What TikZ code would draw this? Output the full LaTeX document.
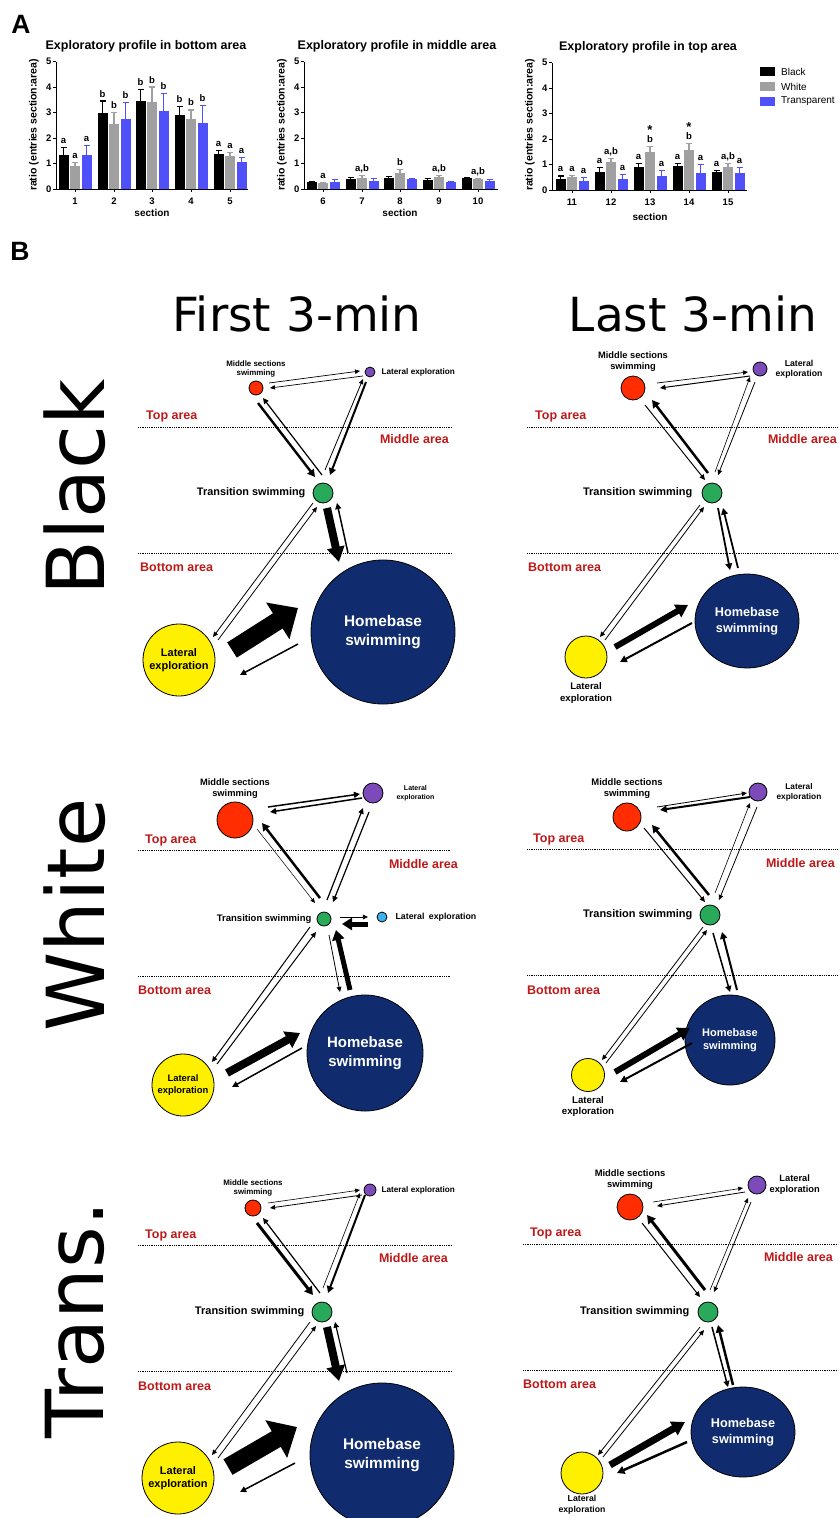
\documentclass[tikz,border=0pt]{standalone}
\usepackage{fontspec}
\setmainfont{Liberation Sans}
\newfontfamily\djv{DejaVu Sans}
\usepackage{xcolor}
\usepackage{tikz}
\usetikzlibrary{positioning,calc,arrows.meta,shapes.geometric}

\definecolor{barblack}{RGB}{0,0,0}
\definecolor{bargray}{RGB}{160,160,160}
\definecolor{barblue}{RGB}{80,80,250}
\definecolor{areared}{RGB}{190,25,25}
\definecolor{msred}{RGB}{255,45,0}
\definecolor{lepurple}{RGB}{125,75,185}
\definecolor{tsgreen}{RGB}{40,170,90}
\definecolor{leyellow}{RGB}{255,240,0}
\definecolor{hbblue}{RGB}{16,44,110}
\definecolor{lecyan}{RGB}{60,180,235}

\newcommand{\fsz}[2]{\fontsize{#1}{#2}\selectfont}

\tikzstyle{spot} = [circle, draw=black, line width=0.8pt, inner sep=0pt, align=center]
\tikzstyle{blob} = [ellipse, draw=black, line width=0.8pt, inner sep=0pt, fill=hbblue, text=white, align=center]
\tikzstyle{lbl} = [inner sep=0pt, align=center]
\tikzstyle{zonelbl} = [inner sep=0pt, text=areared, font=\bfseries\fsz{12.5}{15}]
\tikzstyle{zoneline} = [densely dotted, line width=0.8pt]
\tikzstyle{barlbl} = [anchor=base, inner sep=0pt, font=\bfseries\fsz{9.5}{11}]
\tikzset{flowarr/.style={line width=#1, -{Triangle[length=4pt 1.4, width=3pt 2]}}}
\tikzset{fatarr/.style n args={3}{line width=#1, -{Triangle[length=#2, width=#3]}}}

% one bar with its error whisker and letter
\newcommand{\onebar}[7]{%
  \fill[#5] (#1-5,#2) rectangle (#1+5,#2-#3*25.5);
  \draw[#5, line width=1.1pt] (#1,#2-#3*25.5) -- (#1,#2-#4*25.5)
    (#1-3,#2-#4*25.5) -- (#1+3,#2-#4*25.5);
  \node[barlbl] (#7) at (#1,#2-#4*25.5-4) {#6};}

\begin{document}
\begin{tikzpicture}[x=1pt, y=-1pt]
    \useasboundingbox (0,0) rectangle (840,1518);

    % A: the three bar charts
    \node[font=\bfseries\fsz{26.5}{30}] (pa) at (21,24) {A};
    \foreach \ox/\oy/\xe/\c in {56/189/248/1, 304/189/498/2, 552/190/747/3} {
      \draw[line width=1pt] (\ox,\oy-127.5) -- (\ox,\oy) -- (\xe,\oy);
      \foreach \k in {0,...,5}
        \draw[line width=1pt] (\ox,\oy-\k*25.5) -- (\ox-3,\oy-\k*25.5)
          node[left, inner sep=1pt, font=\bfseries\fsz{9.5}{11}] (yt\c\k) {\k};
      \node[rotate=90, font=\bfseries\fsz{10.5}{12}] (ylab\c) at (\ox-22,125) {ratio (entries section:area)};
    }
    \node[font=\bfseries\fsz{12.5}{15}] (ttl1) at (146,46) {Exploratory profile in bottom area};
    \node[font=\bfseries\fsz{12.5}{15}] (ttl2) at (397,46) {Exploratory profile in middle area};
    \node[font=\bfseries\fsz{12.5}{15}] (ttl3) at (648,47) {Exploratory profile in top area};
    \node[font=\bfseries\fsz{10}{12}] (xlab1) at (152,213) {section};
    \node[font=\bfseries\fsz{10}{12}] (xlab2) at (400,213) {section};
    \node[font=\bfseries\fsz{10}{12}] (xlab3) at (650,217) {section};
    \foreach \gx/\oy/\n in {75/189/1,114/189/2,152/189/3,191/189/4,230/189/5,
        323/189/6,362/189/7,400/189/8,439/189/9,478/189/10,
        572/190/11,611/190/12,650/190/13,689/190/14,728/190/15} {
      \draw[line width=1pt] (\gx,\oy) -- (\gx,\oy+3);
      \node[font=\bfseries\fsz{9.5}{11}] (sec\n) at (\gx,\oy+12) {\n};
    }
    \foreach \gx/\oy/\n/\kv/\ke/\kl/\wv/\we/\wl/\tv/\te/\tl in {
        75/189/1/1.35/1.63/a/0.9/1.05/a/1.35/1.72/a,
        114/189/2/3.0/3.45/b/2.55/3.0/b/2.75/3.4/b,
        152/189/3/3.45/3.9/b/3.4/4.0/b/3.05/3.75/b,
        191/189/4/2.9/3.25/b/2.75/3.1/b/2.6/3.27/b,
        230/189/5/1.37/1.5/a/1.3/1.42/a/1.05/1.25/a,
        323/189/6/0.27/0.3/{}/0.22/0.25/a/0.28/0.37/{},
        362/189/7/0.4/0.45/{}/0.45/0.52/{a,b}/0.32/0.4/{},
        400/189/8/0.45/0.5/{}/0.62/0.75/b/0.38/0.42/{},
        439/189/9/0.37/0.42/{}/0.48/0.52/{a,b}/0.27/0.3/{},
        478/189/10/0.42/0.45/{}/0.38/0.42/{a,b}/0.3/0.38/{},
        572/190/11/0.45/0.55/a/0.5/0.58/a/0.35/0.5/a,
        611/190/12/0.7/0.88/a/1.08/1.25/{a,b}/0.45/0.6/a,
        650/190/13/0.92/1.05/a/1.5/1.72/b/0.55/0.78/a,
        689/190/14/0.95/1.05/a/1.58/1.82/b/0.65/1.0/a,
        728/190/15/0.72/0.78/a/0.92/1.05/{a,b}/0.68/0.88/a} {
      \onebar{\gx-11.5}{\oy}{\kv}{\ke}{barblack}{\kl}{k\n}
      \onebar{\gx}{\oy}{\wv}{\we}{bargray}{\wl}{w\n}
      \onebar{\gx+11.5}{\oy}{\tv}{\te}{barblue}{\tl}{t\n}
    }
    \node[barlbl, font=\bfseries\fsz{13}{15}] (s13) at (650,190-1.72*25.5-12) {*};
    \node[barlbl, font=\bfseries\fsz{13}{15}] (s14) at (689,190-1.82*25.5-12) {*};
    % legend
    \fill[barblack] (760,67) rectangle (775,76);
    \fill[bargray] (760,82) rectangle (775,91);
    \fill[barblue] (760,97) rectangle (775,106);
    \node[anchor=west, inner sep=0pt, font=\fsz{10}{12}] (lgk) at (781,71.5) {Black};
    \node[anchor=west, inner sep=0pt, font=\fsz{10}{12}] (lgw) at (781,86.5) {White};
    \node[anchor=west, inner sep=0pt, font=\fsz{10}{12}] (lgt) at (781,101.5) {Transparent};

    % B: headings
    \node[font=\bfseries\fsz{26.5}{30}] (pb) at (20,251) {B};
    \node[font=\djv\fsz{47}{50}] (col1) at (297,314) {First 3-min};
    \node[font=\djv\fsz{47}{50}] (col2) at (693,314) {Last 3-min};
    \node[rotate=90, font=\djv\fsz{80}{84}] (row1) at (75,487) {Black};
    \node[rotate=90, font=\djv\fsz{80}{84}] (row2) at (75,915) {White};
    \node[rotate=90, font=\djv\fsz{80}{84}] (row3) at (75,1320) {Trans.};

    % Black, first 3-min
    \draw[zoneline] (138,427) -- (452,427);
    \draw[zoneline] (138,553) -- (452,553);
    \node[zonelbl, anchor=west] (t1) at (146,416) {Top area};
    \node[zonelbl, anchor=east] (m1) at (449,439) {Middle area};
    \node[zonelbl, anchor=west] (b1) at (140,567) {Bottom area};
    \node[spot, fill=msred, minimum size=14pt] (r1) at (256,388) {};
    \node[spot, fill=lepurple, minimum size=10pt] (p1) at (370,372) {};
    \node[spot, fill=tsgreen, minimum size=20pt] (g1) at (323,493) {};
    \node[spot, fill=leyellow, minimum size=72pt, font=\bfseries\fsz{11}{13}] (y1) at (179,660) {Lateral\\exploration};
    \node[blob, minimum width=144pt, minimum height=144pt, font=\bfseries\fsz{15.4}{19}] (h1) at (383,632) {Homebase\\swimming};
    \node[lbl, font=\bfseries\fsz{7.9}{9.5}, above=3pt of r1] (r1t) {Middle sections\\swimming};
    \node[lbl, font=\bfseries\fsz{8.2}{10}, right=6pt of p1] (p1t) {Lateral exploration};
    \node[lbl, font=\bfseries\fsz{10.9}{13}, left=7pt of g1] (g1t) {Transition swimming};
    \draw[flowarr=0.7pt] ($(r1)+(13,-5)$) -- ($(p1)+(-10,-1)$);
    \draw[flowarr=0.7pt] ($(p1)+(-7,4)$) -- ($(r1)+(14,0)$);
    \draw[flowarr=2.4pt] ($(r1)+(2,15)$) -- ($(g1)+(-8,-16)$);
    \draw[flowarr=1.2pt] ($(g1)+(-1,-18)$) -- ($(r1)+(7,10)$);
    \draw[flowarr=0.8pt] ($(g1)+(2,-23)$) -- ($(p1)+(-7,7)$);
    \draw[flowarr=2pt] ($(p1)+(-4,10)$) -- ($(g1)+(7,-18)$);
    \draw[fatarr={8pt}{15pt}{17pt}] ($(g1)+(4,15)$) -- ($(h1)+(-44,-70)$);
    \draw[flowarr=1.5pt] ($(h1)+(-35,-79)$) -- ($(g1)+(14,10)$);
    \draw[flowarr=0.8pt] ($(g1)+(-10,10)$) -- ($(y1)+(34,-23)$);
    \draw[flowarr=0.8pt] ($(y1)+(39,-20)$) -- ($(g1)+(-6,14)$);
    \draw[fatarr={18pt}{24pt}{42pt}] ($(y1)+(53,-10)$) -- ($(h1)+(-85,-24)$);
    \draw[flowarr=1.5pt] ($(h1)+(-85,12)$) -- ($(y1)+(61,15)$);

    % Black, last 3-min
    \draw[zoneline] (527,427) -- (838,427);
    \draw[zoneline] (527,553) -- (838,553);
    \node[zonelbl, anchor=west] (t2) at (535,416) {Top area};
    \node[zonelbl, anchor=east] (m2) at (837,439) {Middle area};
    \node[zonelbl, anchor=west] (b2) at (528,567) {Bottom area};
    \node[spot, fill=msred, minimum size=24pt] (r2) at (633,388) {};
    \node[spot, fill=lepurple, minimum size=14pt] (p2) at (760,369) {};
    \node[spot, fill=tsgreen, minimum size=20pt] (g2) at (712,493) {};
    \node[spot, fill=leyellow, minimum size=42pt] (y2) at (586,657) {};
    \node[blob, minimum width=104pt, minimum height=94pt, font=\bfseries\fsz{12.7}{15.5}] (h2) at (747,621) {Homebase\\swimming};
    \node[lbl, font=\bfseries\fsz{9.3}{11}, above=4pt of r2] (r2t) {Middle sections\\swimming};
    \node[lbl, font=\bfseries\fsz{8.7}{10.5}, right=8pt of p2] (p2t) {Lateral\\exploration};
    \node[lbl, font=\bfseries\fsz{11}{13}, left=9pt of g2] (g2t) {Transition swimming};
    \node[lbl, font=\bfseries\fsz{9.6}{11.5}, below=4pt of y2] (y2t) {Lateral\\exploration};
    \draw[flowarr=0.7pt] ($(r2)+(24,-5)$) -- ($(p2)+(-12,3)$);
    \draw[flowarr=1pt] ($(p2)+(-10,7)$) -- ($(r2)+(27,0)$);
    \draw[flowarr=2.5pt] ($(g2)+(-4,-20)$) -- ($(r2)+(19,12)$);
    \draw[flowarr=1pt] ($(r2)+(12,17)$) -- ($(g2)+(-7,-13)$);
    \draw[flowarr=0.6pt] ($(g2)+(3,-21)$) -- ($(p2)+(-10,8)$);
    \draw[flowarr=0.8pt] ($(p2)+(-5,13)$) -- ($(g2)+(6,-18)$);
    \draw[flowarr=1.8pt] ($(g2)+(6,15)$) -- ($(h2)+(-17,-51)$);
    \draw[flowarr=1.8pt] ($(h2)+(-9,-53)$) -- ($(g2)+(11,15)$);
    \draw[flowarr=0.8pt] ($(g2)+(-12,12)$) -- ($(y2)+(14,-20)$);
    \draw[flowarr=0.8pt] ($(y2)+(19,-17)$) -- ($(g2)+(-8,14)$);
    \draw[fatarr={6pt}{12pt}{14pt}] ($(y2)+(29,-10)$) -- ($(h2)+(-59,-16)$);
    \draw[flowarr=2pt] ($(h2)+(-55,2)$) -- ($(y2)+(34,5)$);

    % White, first 3-min
    \draw[zoneline] (138,850) -- (450,850);
    \draw[zoneline] (138,976) -- (450,976);
    \node[zonelbl, anchor=west] (t3) at (145,840) {Top area};
    \node[zonelbl, anchor=east] (m3) at (458,864) {Middle area};
    \node[zonelbl, anchor=west] (b3) at (138,990) {Bottom area};
    \node[spot, fill=msred, minimum size=36pt] (r3) at (235,820) {};
    \node[spot, fill=lepurple, minimum size=20pt] (p3) at (373,793) {};
    \node[spot, fill=tsgreen, minimum size=14pt] (g3) at (324,919) {};
    \node[spot, fill=lecyan, minimum size=10pt] (c3) at (382,917) {};
    \node[spot, fill=leyellow, minimum size=62pt, font=\bfseries\fsz{9.4}{11.5}] (y3) at (183,1085) {Lateral\\exploration};
    \node[blob, minimum width=116pt, minimum height=116pt, font=\bfseries\fsz{15}{18.5}] (h3) at (365,1053) {Homebase\\swimming};
    \node[lbl, font=\bfseries\fsz{9.3}{11}, above=3pt of r3] (r3t) {Middle sections\\swimming};
    \node[lbl, font=\bfseries\fsz{7}{9}, right=13pt of p3] (p3t) {Lateral\\exploration};
    \node[lbl, font=\bfseries\fsz{9.5}{11}, left=5pt of g3] (g3t) {Transition swimming};
    \node[lbl, font=\bfseries\fsz{8.8}{10.5}, right=8pt of c3] (c3t) {Lateral\enspace exploration};
    \draw[flowarr=1.5pt] ($(r3)+(33,-13)$) -- ($(p3)+(-13,1)$);
    \draw[flowarr=1.5pt] ($(p3)+(-11,5)$) -- ($(r3)+(35,-8)$);
    \draw[flowarr=0.5pt] ($(r3)+(22,9)$) -- ($(g3)+(-9,-16)$);
    \draw[flowarr=2.5pt] ($(g3)+(-4,-21)$) -- ($(r3)+(27,3)$);
    \draw[flowarr=1.2pt] ($(g3)+(3,-19)$) -- ($(p3)+(-10,15)$);
    \draw[flowarr=1.2pt] ($(p3)+(-4,19)$) -- ($(g3)+(9,-17)$);
    \draw[flowarr=0.8pt] ($(g3)+(16,-2)$) -- ($(c3)+(-14,0)$);
    \draw[fatarr={5pt}{10pt}{12pt}] ($(c3)+(-14,7)$) -- ($(g3)+(18,5)$);
    \draw[flowarr=0.8pt] ($(g3)+(5,16)$) -- ($(h3)+(-25,-61)$);
    \draw[fatarr={5pt}{10pt}{12pt}] ($(h3)+(-15,-63)$) -- ($(g3)+(12,11)$);
    \draw[flowarr=1pt] ($(g3)+(-14,8)$) -- ($(y3)+(29,-23)$);
    \draw[flowarr=1pt] ($(y3)+(34,-21)$) -- ($(g3)+(-8,13)$);
    \draw[fatarr={8pt}{14pt}{18pt}] ($(y3)+(44,-12)$) -- ($(h3)+(-65,-20)$);
    \draw[flowarr=1.5pt] ($(h3)+(-63,-5)$) -- ($(y3)+(49,2)$);

    % White, last 3-min
    \draw[zoneline] (527,849) -- (838,849);
    \draw[zoneline] (527,975) -- (838,975);
    \node[zonelbl, anchor=west] (t4) at (533,839) {Top area};
    \node[zonelbl, anchor=east] (m4) at (835,863) {Middle area};
    \node[zonelbl, anchor=west] (b4) at (527,990) {Bottom area};
    \node[spot, fill=msred, minimum size=28pt] (r4) at (627,817) {};
    \node[spot, fill=lepurple, minimum size=18pt] (p4) at (758,792) {};
    \node[spot, fill=tsgreen, minimum size=20pt] (g4) at (710,915) {};
    \node[spot, fill=leyellow, minimum size=33pt] (y4) at (588,1075) {};
    \node[blob, minimum width=90pt, minimum height=90pt, font=\bfseries\fsz{11}{13.5}] (h4) at (730,1040) {Homebase\\swimming};
    \node[lbl, font=\bfseries\fsz{9.5}{11}, above=4pt of r4] (r4t) {Middle sections\\swimming};
    \node[lbl, font=\bfseries\fsz{8.3}{10}, right=9pt of p4] (p4t) {Lateral\\exploration};
    \node[lbl, font=\bfseries\fsz{11}{13}, left=7pt of g4] (g4t) {Transition swimming};
    \node[lbl, font=\bfseries\fsz{9.7}{11.5}, below=4pt of y4] (y4t) {Lateral\\exploration};
    \draw[flowarr=0.8pt] ($(r4)+(30,-10)$) -- ($(p4)+(-11,1)$);
    \draw[flowarr=2pt] ($(p4)+(-8,5)$) -- ($(r4)+(33,-7)$);
    \draw[flowarr=2.5pt] ($(g4)+(-1,-20)$) -- ($(r4)+(25,8)$);
    \draw[flowarr=1pt] ($(r4)+(17,11)$) -- ($(g4)+(-5,-13)$);
    \draw[flowarr=0.6pt] ($(g4)+(5,-22)$) -- ($(p4)+(-8,11)$);
    \draw[flowarr=0.8pt] ($(p4)+(-1,15)$) -- ($(g4)+(9,-15)$);
    \draw[flowarr=1.5pt] ($(g4)+(3,18)$) -- ($(h4)+(0,-48)$);
    \draw[flowarr=2pt] ($(h4)+(7,-50)$) -- ($(g4)+(12,17)$);
    \draw[flowarr=0.8pt] ($(g4)+(-7,12)$) -- ($(y4)+(14,-15)$);
    \draw[flowarr=0.8pt] ($(y4)+(18,-12)$) -- ($(g4)+(-3,15)$);
    \draw[fatarr={6pt}{12pt}{14pt}] ($(y4)+(27,-3)$) -- ($(h4)+(-40,-12)$);
    \draw[flowarr=2pt] ($(h4)+(-38,3)$) -- ($(y4)+(32,7)$);

    % Trans., first 3-min
    \draw[zoneline] (138,1245) -- (452,1245);
    \draw[zoneline] (138,1371) -- (452,1371);
    \node[zonelbl, anchor=west] (t5) at (145,1235) {Top area};
    \node[zonelbl, anchor=east] (m5) at (448,1258) {Middle area};
    \node[zonelbl, anchor=west] (b5) at (138,1386) {Bottom area};
    \node[spot, fill=msred, minimum size=16pt] (r5) at (253,1208) {};
    \node[spot, fill=lepurple, minimum size=12pt] (p5) at (370,1190) {};
    \node[spot, fill=tsgreen, minimum size=20pt] (g5) at (322,1312) {};
    \node[spot, fill=leyellow, minimum size=72pt, font=\bfseries\fsz{11}{13}] (y5) at (178,1478) {Lateral\\exploration};
    \node[blob, minimum width=144pt, minimum height=144pt, font=\bfseries\fsz{15.4}{19}] (h5) at (382,1455) {Homebase\\swimming};
    \node[lbl, font=\bfseries\fsz{7.9}{9.5}, above=3pt of r5] (r5t) {Middle sections\\swimming};
    \node[lbl, font=\bfseries\fsz{8.2}{10}, right=5pt of p5] (p5t) {Lateral exploration};
    \node[lbl, font=\bfseries\fsz{11}{13}, left=7pt of g5] (g5t) {Transition swimming};
    \draw[flowarr=0.6pt] ($(r5)+(15,-5)$) -- ($(p5)+(-10,0)$);
    \draw[flowarr=0.8pt] ($(p5)+(-8,5)$) -- ($(r5)+(17,0)$);
    \draw[flowarr=3pt] ($(r5)+(4,15)$) -- ($(g5)+(-9,-17)$);
    \draw[flowarr=1.2pt] ($(g5)+(-2,-19)$) -- ($(r5)+(10,10)$);
    \draw[flowarr=0.6pt] ($(g5)+(1,-24)$) -- ($(p5)+(-10,3)$);
    \draw[flowarr=2pt] ($(p5)+(-5,5)$) -- ($(g5)+(6,-19)$);
    \draw[fatarr={8pt}{15pt}{18pt}] ($(g5)+(5,15)$) -- ($(h5)+(-43,-74)$);
    \draw[flowarr=1.2pt] ($(h5)+(-35,-82)$) -- ($(g5)+(13,10)$);
    \draw[flowarr=0.8pt] ($(g5)+(-12,10)$) -- ($(y5)+(34,-23)$);
    \draw[flowarr=0.8pt] ($(y5)+(40,-20)$) -- ($(g5)+(-6,14)$);
    \draw[fatarr={18pt}{24pt}{42pt}] ($(y5)+(50,-11)$) -- ($(h5)+(-85,-28)$);
    \draw[flowarr=1.5pt] ($(h5)+(-87,8)$) -- ($(y5)+(62,14)$);

    % Trans., last 3-min
    \draw[zoneline] (523,1244) -- (838,1244);
    \draw[zoneline] (523,1370) -- (838,1370);
    \node[zonelbl, anchor=west] (t6) at (530,1233) {Top area};
    \node[zonelbl, anchor=east] (m6) at (833,1257) {Middle area};
    \node[zonelbl, anchor=west] (b6) at (523,1384) {Bottom area};
    \node[spot, fill=msred, minimum size=26pt] (r6) at (630,1207) {};
    \node[spot, fill=lepurple, minimum size=18pt] (p6) at (757,1185) {};
    \node[spot, fill=tsgreen, minimum size=20pt] (g6) at (708,1312) {};
    \node[spot, fill=leyellow, minimum size=42pt] (y6) at (582,1473) {};
    \node[blob, minimum width=104pt, minimum height=90pt, font=\bfseries\fsz{12.7}{15.5}] (h6) at (743,1432) {Homebase\\swimming};
    \node[lbl, font=\bfseries\fsz{9.4}{11}, above=4pt of r6] (r6t) {Middle sections\\swimming};
    \node[lbl, font=\bfseries\fsz{9.3}{11}, right=3pt of p6] (p6t) {Lateral\\exploration};
    \node[lbl, font=\bfseries\fsz{11}{13}, left=8pt of g6] (g6t) {Transition swimming};
    \node[lbl, font=\bfseries\fsz{8.7}{10.5}, below=1pt of y6] (y6t) {Lateral\\exploration};
    \draw[flowarr=0.6pt] ($(r6)+(23,-5)$) -- ($(p6)+(-14,3)$);
    \draw[flowarr=0.8pt] ($(p6)+(-12,7)$) -- ($(r6)+(27,-1)$);
    \draw[flowarr=3pt] ($(g6)+(-3,-22)$) -- ($(r6)+(17,8)$);
    \draw[flowarr=1pt] ($(r6)+(12,16)$) -- ($(g6)+(-8,-15)$);
    \draw[flowarr=0.6pt] ($(g6)+(2,-22)$) -- ($(p6)+(-9,13)$);
    \draw[flowarr=0.8pt] ($(p6)+(-6,17)$) -- ($(g6)+(6,-20)$);
    \draw[flowarr=1.5pt] ($(g6)+(4,15)$) -- ($(h6)+(-15,-45)$);
    \draw[flowarr=2.5pt] ($(h6)+(-10,-47)$) -- ($(g6)+(10,13)$);
    \draw[flowarr=0.8pt] ($(g6)+(-8,15)$) -- ($(y6)+(16,-18)$);
    \draw[flowarr=0.8pt] ($(y6)+(21,-16)$) -- ($(g6)+(-4,18)$);
    \draw[fatarr={7pt}{13pt}{15pt}] ($(y6)+(28,-8)$) -- ($(h6)+(-58,-10)$);
    \draw[flowarr=2.5pt] ($(h6)+(-56,10)$) -- ($(y6)+(35,0)$);
\end{tikzpicture}
\end{document}
